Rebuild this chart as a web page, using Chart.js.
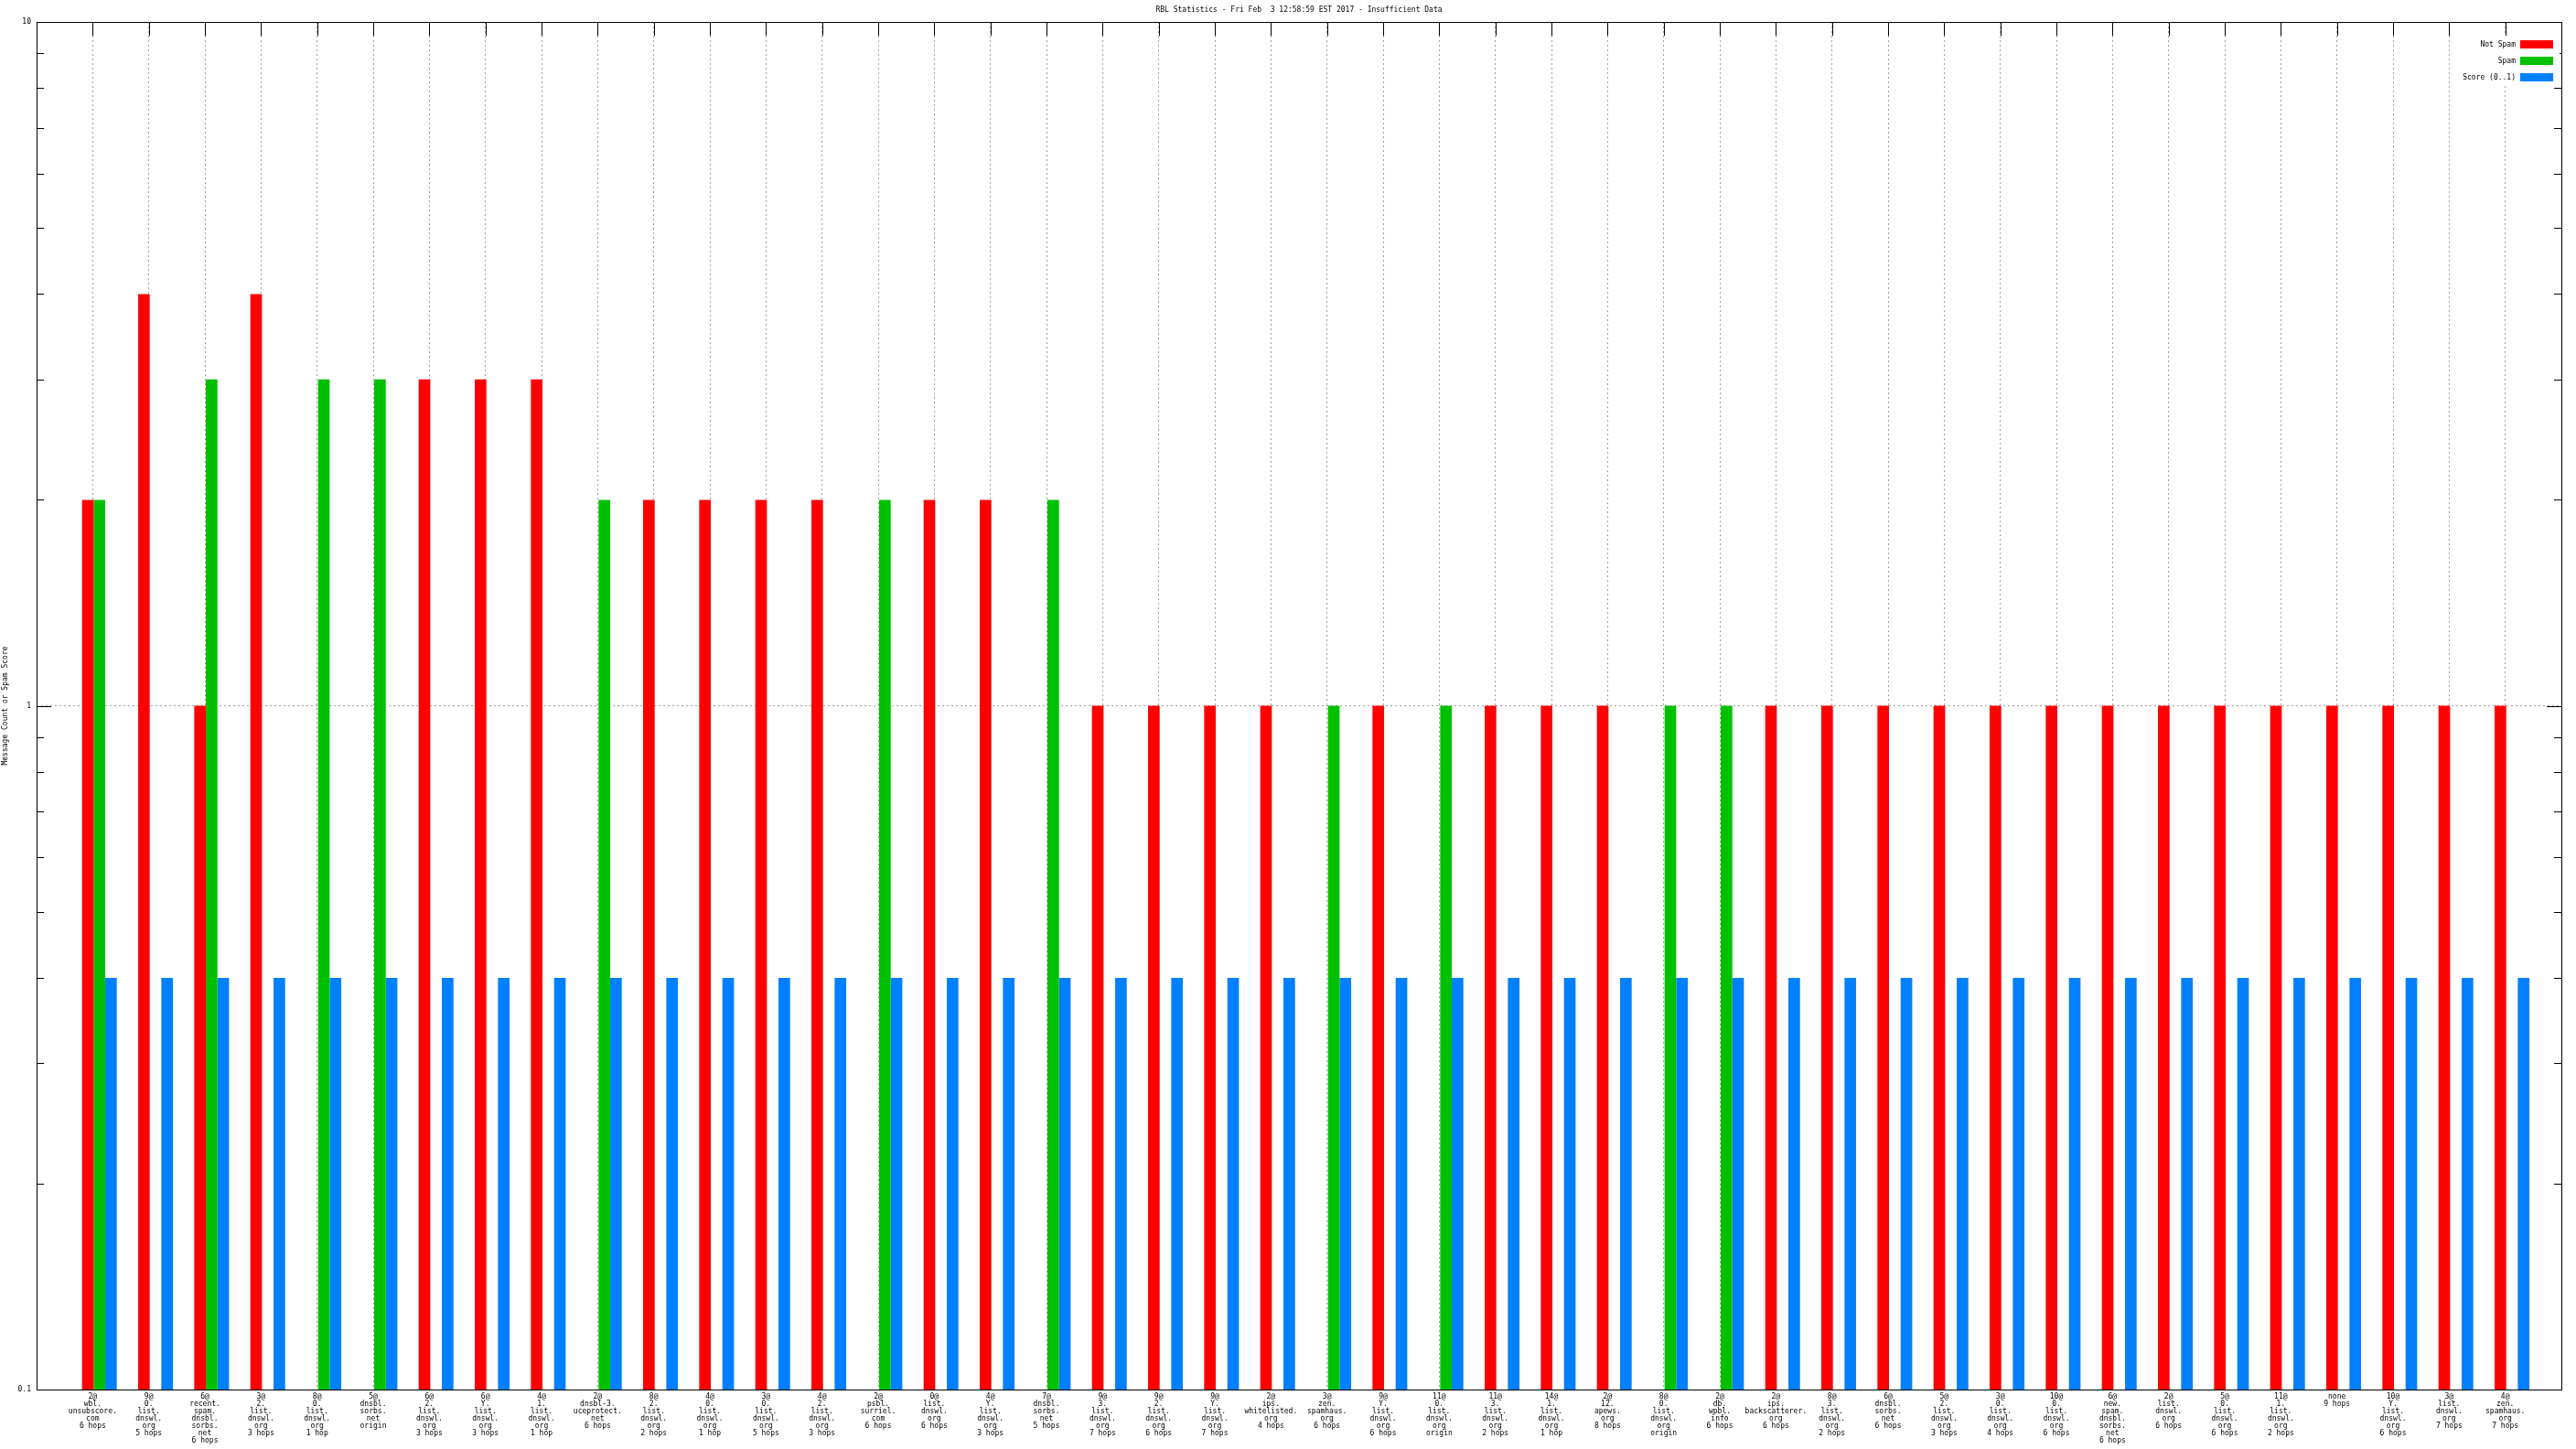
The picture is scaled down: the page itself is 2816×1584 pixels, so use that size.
<!DOCTYPE html>
<html>
<head>
<meta charset="utf-8">
<script src="https://cdn.jsdelivr.net/npm/chart.js@4.4.1/dist/chart.umd.min.js"></script>
<style>
  html, body { margin: 0; padding: 0; background: #fff; }
  #wrap { width: 2816px; height: 1584px; }
</style>
</head>
<body>
<div id="wrap"><canvas id="chart"></canvas></div>
<script>
var chartTitle = "RBL Statistics - Fri Feb  3 12:58:59 EST 2017 - Insufficient Data";
var yTitle = "Message Count or Spam Score";

var categories = [
  "2@\nwbl.\nunsubscore.\ncom\n6 hops",
  "9@\n0.\nlist.\ndnswl.\norg\n5 hops",
  "6@\nrecent.\nspam.\ndnsbl.\nsorbs.\nnet\n6 hops",
  "3@\n2.\nlist.\ndnswl.\norg\n3 hops",
  "8@\n0.\nlist.\ndnswl.\norg\n1 hop",
  "5@\ndnsbl.\nsorbs.\nnet\norigin",
  "6@\n2.\nlist.\ndnswl.\norg\n3 hops",
  "6@\nY.\nlist.\ndnswl.\norg\n3 hops",
  "4@\n1.\nlist.\ndnswl.\norg\n1 hop",
  "2@\ndnsbl-3.\nuceprotect.\nnet\n6 hops",
  "8@\n2.\nlist.\ndnswl.\norg\n2 hops",
  "4@\n0.\nlist.\ndnswl.\norg\n1 hop",
  "3@\n0.\nlist.\ndnswl.\norg\n5 hops",
  "4@\n2.\nlist.\ndnswl.\norg\n3 hops",
  "2@\npsbl.\nsurriel.\ncom\n6 hops",
  "0@\nlist.\ndnswl.\norg\n6 hops",
  "4@\nY.\nlist.\ndnswl.\norg\n3 hops",
  "7@\ndnsbl.\nsorbs.\nnet\n5 hops",
  "9@\n3.\nlist.\ndnswl.\norg\n7 hops",
  "9@\n2.\nlist.\ndnswl.\norg\n6 hops",
  "9@\nY.\nlist.\ndnswl.\norg\n7 hops",
  "2@\nips.\nwhitelisted.\norg\n4 hops",
  "3@\nzen.\nspamhaus.\norg\n6 hops",
  "9@\nY.\nlist.\ndnswl.\norg\n6 hops",
  "11@\n0.\nlist.\ndnswl.\norg\norigin",
  "11@\n3.\nlist.\ndnswl.\norg\n2 hops",
  "14@\n1.\nlist.\ndnswl.\norg\n1 hop",
  "2@\n12.\napews.\norg\n8 hops",
  "8@\n0.\nlist.\ndnswl.\norg\norigin",
  "2@\ndb.\nwpbl.\ninfo\n6 hops",
  "2@\nips.\nbackscatterer.\norg\n6 hops",
  "8@\n3.\nlist.\ndnswl.\norg\n2 hops",
  "6@\ndnsbl.\nsorbs.\nnet\n6 hops",
  "5@\n2.\nlist.\ndnswl.\norg\n3 hops",
  "3@\n0.\nlist.\ndnswl.\norg\n4 hops",
  "10@\n0.\nlist.\ndnswl.\norg\n6 hops",
  "6@\nnew.\nspam.\ndnsbl.\nsorbs.\nnet\n6 hops",
  "2@\nlist.\ndnswl.\norg\n6 hops",
  "5@\n0.\nlist.\ndnswl.\norg\n6 hops",
  "11@\n1.\nlist.\ndnswl.\norg\n2 hops",
  "none\n9 hops",
  "10@\nY.\nlist.\ndnswl.\norg\n6 hops",
  "3@\nlist.\ndnswl.\norg\n7 hops",
  "4@\nzen.\nspamhaus.\norg\n7 hops"
];

var notSpam = [2, 4, 1, 4, null, null, 3, 3, 3, null, 2, 2, 2, 2, null, 2, 2, null,
  1, 1, 1, 1, null, 1, null, 1, 1, 1, null, null, 1, 1, 1, 1, 1, 1, 1, 1, 1, 1, 1, 1, 1, 1];
var spam = [2, null, 3, null, 3, 3, null, null, null, 2, null, null, null, null, 2, null, null, 2,
  null, null, null, null, 1, null, 1, null, null, null, 1, 1, null, null, null, null, null, null,
  null, null, null, null, null, null, null, null];
var score = [0.4, 0.4, 0.4, 0.4, 0.4, 0.4, 0.4, 0.4, 0.4, 0.4, 0.4, 0.4, 0.4, 0.4, 0.4,
  0.4, 0.4, 0.4, 0.4, 0.4, 0.4, 0.4, 0.4, 0.4, 0.4, 0.4, 0.4, 0.4, 0.4, 0.4, 0.4, 0.4,
  0.4, 0.4, 0.4, 0.4, 0.4, 0.4, 0.4, 0.4, 0.4, 0.4, 0.4, 0.4];

var yTicks = [0.1, 0.2, 0.3, 0.4, 0.5, 0.6, 0.7, 0.8, 0.9, 1, 2, 3, 4, 5, 6, 7, 8, 9, 10];
var yLabels = [0.1, 1, 10];

var FONT = "'DejaVu Sans Mono', monospace";
var GRID = "#a0a0a0";

// bars sit a little right of the tick, like gnuplot's boxes
function points(values) {
  return values.map(function (v, i) { return { x: i + 0.12, y: v }; });
}

// gnuplot style frame: inward ticks, full border, key inside top right
var frame = {
  id: "frame",
  beforeDatasetsDraw: function (chart) {
    var c = chart.ctx, a = chart.chartArea;
    var xs = chart.scales.x, ys = chart.scales.y;
    c.save();
    c.strokeStyle = "#000";
    c.lineWidth = 1;
    c.beginPath();
    ys.ticks.forEach(function (t) {
      var y = Math.round(ys.getPixelForValue(t.value)) + 0.5;
      var len = yLabels.indexOf(t.value) >= 0 ? 16 : 8;
      c.moveTo(a.left, y); c.lineTo(a.left + len, y);
      c.moveTo(a.right, y); c.lineTo(a.right - len, y);
    });
    xs.ticks.forEach(function (t) {
      var x = Math.round(xs.getPixelForValue(t.value)) + 0.5;
      c.moveTo(x, a.top); c.lineTo(x, a.top + 15);
    });
    c.stroke();
    c.restore();
  },
  afterDatasetsDraw: function (chart) {
    var c = chart.ctx, a = chart.chartArea;
    c.save();
    c.strokeStyle = "#000";
    c.lineWidth = 1;
    c.strokeRect(Math.round(a.left) + 0.5, Math.round(a.top) + 0.5,
      Math.round(a.right - a.left), Math.round(a.bottom - a.top));
    // key
    c.fillStyle = "#fff";
    c.fillRect(a.right - 114, a.top + 15, 112, 54);
    c.font = "8px " + FONT;
    c.textAlign = "right";
    c.textBaseline = "middle";
    chart.data.datasets.forEach(function (ds, k) {
      var y = a.top + 24.5 + 18 * k;
      c.fillStyle = "#000";
      c.fillText(ds.label, a.right - 50, y);
      c.fillStyle = ds.backgroundColor;
      c.fillRect(a.right - 45, y - 4.5, 36, 9);
    });
    c.restore();
  }
};

Chart.defaults.font.family = FONT;
Chart.defaults.color = "#000";

new Chart(document.getElementById("chart"), {
  type: "bar",
  data: {
    datasets: [
      { label: "Not Spam", data: points(notSpam), backgroundColor: "#ff0000" },
      { label: "Spam", data: points(spam), backgroundColor: "#00c000" },
      { label: "Score (0..1)", data: points(score), backgroundColor: "#0080ff" }
    ]
  },
  options: {
    responsive: true,
    maintainAspectRatio: false,
    animation: false,
    categoryPercentage: 0.62,
    barPercentage: 1,
    layout: { padding: { left: 0, right: 16, top: 0, bottom: 0 } },
    plugins: {
      legend: { display: false },
      tooltip: { enabled: false },
      title: {
        display: true,
        text: chartTitle,
        fullSize: false,
        color: "#000",
        font: { family: FONT, size: 8, weight: "normal", lineHeight: 1 },
        padding: { top: 7, bottom: 9 }
      }
    },
    scales: {
      x: {
        type: "linear",
        min: -1,
        max: 44,
        offset: false,
        afterBuildTicks: function (s) {
          s.ticks = categories.map(function (c, i) { return { value: i }; });
        },
        afterFit: function (s) { s.height = 65; },
        ticks: {
          autoSkip: false,
          maxRotation: 0,
          minRotation: 0,
          padding: 4,
          color: "#000",
          font: { family: FONT, size: 8, lineHeight: 1 },
          callback: function (v, i) { return categories[i].split("\n"); }
        },
        grid: { offset: false, color: GRID, drawTicks: false, lineWidth: 1 },
        border: { display: false, dash: [2, 3] }
      },
      y: {
        type: "logarithmic",
        min: 0.1,
        max: 10,
        afterBuildTicks: function (s) {
          s.ticks = yTicks.map(function (v) { return { value: v }; });
        },
        afterFit: function (s) { s.width = 40; },
        ticks: {
          autoSkip: false,
          padding: 6,
          color: "#000",
          font: { family: FONT, size: 8, lineHeight: 1 },
          callback: function (v) { return yLabels.indexOf(v) >= 0 ? String(v) : ""; }
        },
        grid: {
          drawTicks: false,
          lineWidth: 1,
          color: function (ctx) {
            return ctx.tick && ctx.tick.value === 1 ? GRID : "rgba(0,0,0,0)";
          }
        },
        border: { display: false, dash: [2, 3] },
        title: {
          display: true,
          text: yTitle,
          color: "#000",
          font: { family: FONT, size: 8, lineHeight: 1 },
          padding: { top: 2, bottom: 0 }
        }
      }
    }
  },
  plugins: [frame]
});
</script>
</body>
</html>
